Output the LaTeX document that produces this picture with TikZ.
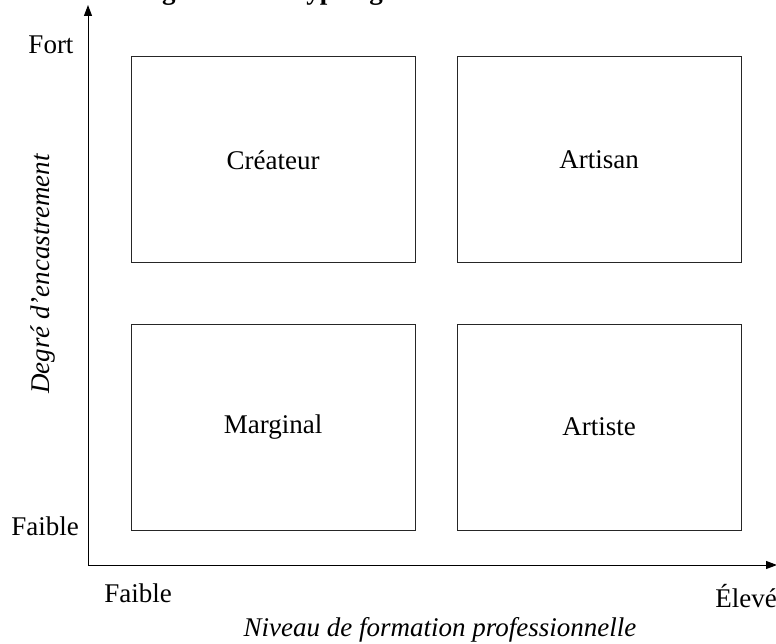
\documentclass[tikz,border=0pt]{standalone}
\usepackage{fontspec}
\setmainfont{Liberation Serif}
\usetikzlibrary{arrows.meta}
\begin{document}
\begin{tikzpicture}[x=1pt,y=-1pt,
  quad/.style={draw=black!85,line width=1pt,minimum width=284pt,minimum height=206pt,inner sep=0pt,font=\fontsize{27}{32}\selectfont},
  lbl/.style={inner sep=0pt,font=\fontsize{27}{32}\selectfont},
  ilbl/.style={inner sep=0pt,font=\fontsize{27}{32}\selectfont\itshape},
  axis/.style={line width=1pt,-{Triangle[length=11pt,width=8pt]}}]
\useasboundingbox (0,0) rectangle (776,644);
\begin{scope}
\clip (0,0) rectangle (776,644);
\node[inner sep=0pt,anchor=base west,font=\fontsize{27}{32}\selectfont\bfseries] (title) at (138,0) {Figure 1 : La typologie};
\end{scope}
\coordinate (o) at (88,565);
\coordinate (ytip) at (88,5);
\coordinate (xtip) at (777,565);
\draw[axis] (o) -- (ytip);
\draw[axis] (o) -- (xtip);
\node[quad] (createur) at (273,160) {Créateur};
\node[quad] (artisan) at (599,160) {Artisan};
\node[quad] (marginal) at (273,427) {Marginal};
\node[quad] (artiste) at (599,427) {Artiste};
\node[lbl] (fort) at (51,45) {Fort};
\node[lbl] (faibley) at (45,526) {Faible};
\node[lbl] (faiblex) at (138,593) {Faible};
\node[lbl,anchor=east] (eleve) at (777,596) {Élevé};
\node[ilbl] (xlabel) at (440,630) {Niveau de formation professionnelle};
\node[ilbl,rotate=90] (ylabel) at (43,274) {Degré d’encastrement};
\end{tikzpicture}
\end{document}
